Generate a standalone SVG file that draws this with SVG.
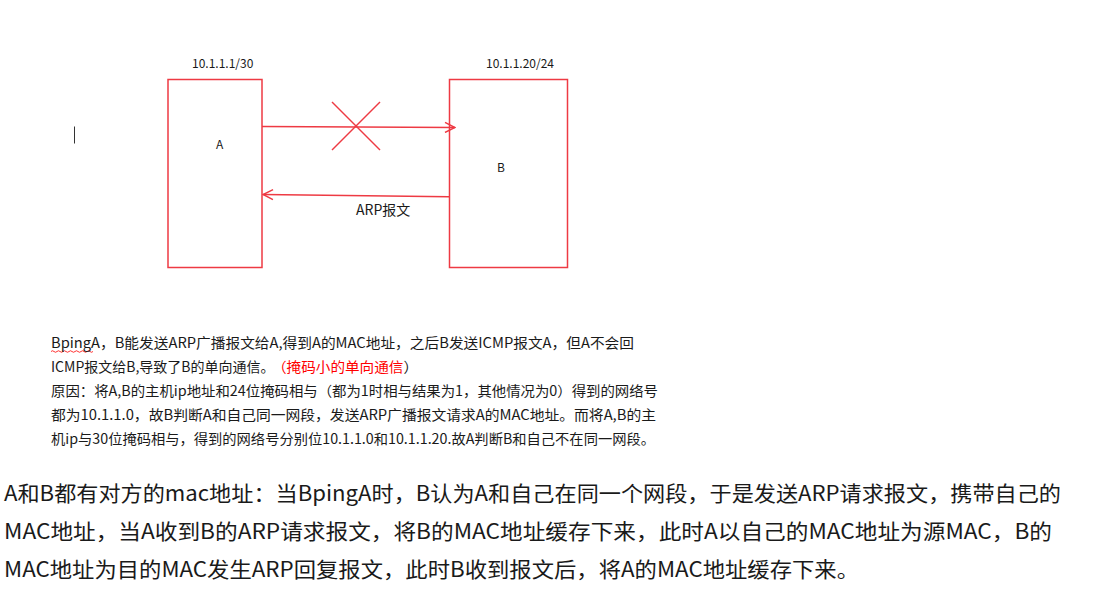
<svg xmlns="http://www.w3.org/2000/svg" width="1096" height="606" viewBox="0 0 1096 606">
<style>
.box{fill:none;stroke:#ee3a43;stroke-width:1.5}
.ln{fill:none;stroke:#ee3a43;stroke-width:1.5}
.t{font-family:"Noto Sans CJK SC","Liberation Sans",sans-serif;fill:#1a1a1a}
.s12{font-size:12px}
.s14{font-size:14px}
.p{font-size:14px}
.big{font-size:21px}
.red{fill:#ff0000}
</style>
<defs>
<marker id="ah" viewBox="0 0 12 12" refX="11" refY="6" markerWidth="12" markerHeight="12" markerUnits="userSpaceOnUse" orient="auto">
<path d="M1,1 L11,6 L1,11" fill="none" stroke="#ee3a43" stroke-width="1.5"/>
</marker>
</defs>
<rect width="1096" height="606" fill="#ffffff"/>
<line x1="74.5" y1="126.5" x2="74.5" y2="143.5" stroke="#333" stroke-width="1"/>
<g id="nodeA">
<rect class="box" x="168" y="79.5" width="94" height="188"/>
<text class="t s12" x="216" y="149">A</text>
<text class="t s12" x="192" y="68">10.1.1.1/30</text>
</g>
<g id="nodeB">
<rect class="box" x="449.5" y="79.5" width="118" height="188"/>
<text class="t s12" x="497" y="172">B</text>
<text class="t s12" x="486" y="68">10.1.1.20/24</text>
</g>
<g id="connectors">
<line class="ln" x1="262" y1="126.5" x2="455" y2="127.5" marker-end="url(#ah)"/>
<line class="ln" x1="332" y1="102" x2="380" y2="150"/>
<line class="ln" x1="380" y1="102" x2="332" y2="150"/>
<line class="ln" x1="449" y1="196.8" x2="263" y2="194.5" marker-end="url(#ah)"/>
<text class="t s14" x="356" y="215">ARP报文</text>
</g>
<g id="paragraph">
<path d="M51,351.5 q1.5,-1.5 3,0 t3,0 t3,0 t3,0 t3,0 t3,0 t3,0 t3,0 t3,0 t3,0 t3,0 t3,0 t3,0 t3,0" fill="none" stroke="#ff0000" stroke-width="0.8"/>
<text class="t p" x="51" y="348" textLength="583" lengthAdjust="spacingAndGlyphs">BpingA，B能发送ARP广播报文给A,得到A的MAC地址，之后B发送ICMP报文A，但A不会回</text>
<text class="t p" x="51" y="372">ICMP报文给B,导致了B的单向通信。</text>
<text class="t p" x="272" y="372" textLength="146" lengthAdjust="spacingAndGlyphs"><tspan class="red">（掩码小的单向通信</tspan>）</text>
<text class="t p" x="51" y="396" textLength="607" lengthAdjust="spacingAndGlyphs">原因：将A,B的主机ip地址和24位掩码相与（都为1时相与结果为1，其他情况为0）得到的网络号</text>
<text class="t p" x="51" y="420" textLength="605" lengthAdjust="spacingAndGlyphs">都为10.1.1.0，故B判断A和自己同一网段，发送ARP广播报文请求A的MAC地址。而将A,B的主</text>
<text class="t p" x="51" y="444" textLength="604" lengthAdjust="spacingAndGlyphs">机ip与30位掩码相与，得到的网络号分别位10.1.1.0和10.1.1.20.故A判断B和自己不在同一网段。</text>
</g>
<g id="summary">
<text class="t big" x="4" y="501" textLength="1057" lengthAdjust="spacingAndGlyphs">A和B都有对方的mac地址：当BpingA时，B认为A和自己在同一个网段，于是发送ARP请求报文，携带自己的</text>
<text class="t big" x="4" y="539" textLength="1048" lengthAdjust="spacingAndGlyphs">MAC地址，当A收到B的ARP请求报文，将B的MAC地址缓存下来，此时A以自己的MAC地址为源MAC，B的</text>
<text class="t big" x="4" y="577" textLength="855" lengthAdjust="spacingAndGlyphs">MAC地址为目的MAC发生ARP回复报文，此时B收到报文后，将A的MAC地址缓存下来。</text>
</g>
</svg>
